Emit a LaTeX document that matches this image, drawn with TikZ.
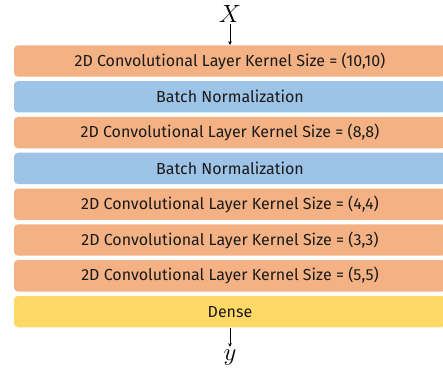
\documentclass[tikz,border=0pt]{standalone}
\usepackage{fontspec}
\setmainfont{Fira Sans}
\definecolor{nnConv}{HTML}{F4B183}
\definecolor{nnNorm}{HTML}{9DC3E6}
\definecolor{nnDense}{HTML}{FFD966}
\definecolor{nnText}{HTML}{1A1A1A}
\usetikzlibrary{positioning,arrows.meta}
\tikzset{
  layer/.style={rounded corners=4pt, minimum width=432pt, minimum height=31.4pt,
    inner sep=0pt, text=nnText, font=\fontsize{16}{18}\selectfont},
  conv/.style={layer, fill=nnConv},
  norm/.style={layer, fill=nnNorm},
  dense/.style={layer, fill=nnDense},
  flow/.style={-{Stealth[length=4pt,width=3.5pt]}, line width=0.8pt}
}

\begin{document}
\begin{tikzpicture}[x=1pt, y=1pt, node distance=4pt]
  \useasboundingbox (0,0) rectangle (443,-371);
  \clip (0,0) rectangle (443,-371);

  % Input
  \node[inner sep=1pt] (in) at (230,-14) {\fontsize{24}{26}\selectfont$X$};

  % Layers
  \node[conv] (c1) at (230,-61) {2D Convolutional Layer Kernel Size = (10,10)};
  \node[norm, below=of c1] (b1) {Batch Normalization};
  \node[conv, below=of b1] (c2) {2D Convolutional Layer Kernel Size = (8,8)};
  \node[norm, below=of c2] (b2) {Batch Normalization};
  \node[conv, below=of b2] (c3) {2D Convolutional Layer Kernel Size = (4,4)};
  \node[conv, below=of c3] (c4) {2D Convolutional Layer Kernel Size = (3,3)};
  \node[conv, below=of c4] (c5) {2D Convolutional Layer Kernel Size = (5,5)};
  \node[dense, below=of c5] (d1) {Dense};

  % Output
  \node[inner sep=1pt] (out) at (230,-358) {\fontsize{24}{26}\selectfont$y$};

  \draw[flow] (in.south) -- (c1.north);
  \draw[flow] (d1.south) -- ([yshift=2pt]out.north);
\end{tikzpicture}
\end{document}
